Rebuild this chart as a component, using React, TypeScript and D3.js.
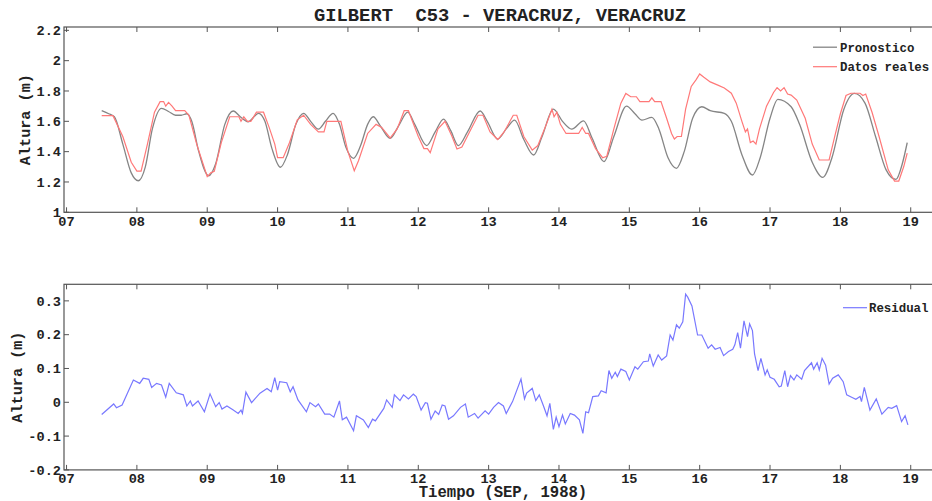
import React from "react";
import * as d3 from "d3";

const TITLE = "GILBERT  C53 - VERACRUZ, VERACRUZ";
const X_LABEL = "Tiempo (SEP, 1988)";
const Y_LABEL = "Altura (m)";
const X_TICKS = [7, 8, 9, 10, 11, 12, 13, 14, 15, 16, 17, 18, 19];
const TOP_Y_TICKS = [1, 1.2, 1.4, 1.6, 1.8, 2, 2.2];
const BOT_Y_TICKS = [-0.2, -0.1, 0, 0.1, 0.2, 0.3];

// Pronostico (forecast) — day of September, height (m)
const pronDays = [7.5, 7.6, 7.68, 7.8, 7.92, 8.02, 8.12, 8.22, 8.35, 8.45, 8.55, 8.63, 8.71, 8.78, 8.88, 9.02, 9.12, 9.25, 9.37, 9.47, 9.58, 9.73, 9.82, 9.92, 10.04, 10.14, 10.26, 10.37, 10.47, 10.58, 10.68, 10.79, 10.88, 10.97, 11.08, 11.18, 11.28, 11.36, 11.46, 11.6, 11.72, 11.85, 11.95, 12.12, 12.24, 12.36, 12.46, 12.57, 12.7, 12.88, 12.98, 13.13, 13.25, 13.37, 13.5, 13.64, 13.76, 13.92, 14.05, 14.18, 14.35, 14.47, 14.64, 14.78, 14.96, 15.08, 15.18, 15.32, 15.42, 15.55, 15.67, 15.78, 15.9, 16.03, 16.15, 16.35, 16.45, 16.6, 16.75, 16.86, 17.0, 17.11, 17.3, 17.42, 17.6, 17.75, 17.88, 18.05, 18.2, 18.35, 18.5, 18.65, 18.79, 18.88, 18.95];
const pronValues = [1.67, 1.65, 1.63, 1.45, 1.26, 1.208, 1.3, 1.55, 1.686, 1.665, 1.64, 1.64, 1.65, 1.6, 1.4, 1.24, 1.32, 1.58, 1.668, 1.63, 1.597, 1.653, 1.6, 1.42, 1.297, 1.38, 1.58, 1.653, 1.6, 1.549, 1.6, 1.653, 1.58, 1.43, 1.356, 1.44, 1.58, 1.63, 1.57, 1.488, 1.57, 1.66, 1.58, 1.44, 1.53, 1.615, 1.54, 1.44, 1.53, 1.668, 1.6, 1.483, 1.55, 1.608, 1.48, 1.378, 1.5, 1.681, 1.6, 1.549, 1.603, 1.49, 1.334, 1.5, 1.7, 1.65, 1.608, 1.626, 1.55, 1.36, 1.29, 1.4, 1.62, 1.696, 1.67, 1.653, 1.6, 1.38, 1.246, 1.36, 1.62, 1.745, 1.696, 1.58, 1.33, 1.23, 1.36, 1.68, 1.784, 1.72, 1.5, 1.28, 1.217, 1.32, 1.459];

// Datos reales (observed)
const obsDays = [7.5, 7.66, 7.8, 7.92, 8.0, 8.06, 8.15, 8.25, 8.33, 8.38, 8.41, 8.45, 8.5, 8.55, 8.68, 8.74, 8.85, 9.0, 9.05, 9.1, 9.2, 9.32, 9.45, 9.48, 9.52, 9.57, 9.62, 9.7, 9.8, 9.88, 9.96, 10.0, 10.08, 10.17, 10.28, 10.37, 10.47, 10.58, 10.66, 10.7, 10.9, 11.0, 11.09, 11.15, 11.28, 11.4, 11.48, 11.6, 11.7, 11.8, 11.86, 12.0, 12.08, 12.13, 12.17, 12.28, 12.38, 12.48, 12.55, 12.62, 12.75, 12.85, 12.92, 13.02, 13.13, 13.22, 13.35, 13.4, 13.5, 13.62, 13.7, 13.82, 13.9, 13.93, 13.97, 14.02, 14.1, 14.28, 14.33, 14.38, 14.42, 14.52, 14.62, 14.68, 14.78, 14.88, 14.95, 15.02, 15.1, 15.15, 15.28, 15.32, 15.36, 15.45, 15.53, 15.6, 15.64, 15.68, 15.74, 15.8, 15.88, 15.95, 16.0, 16.06, 16.15, 16.25, 16.35, 16.45, 16.52, 16.6, 16.65, 16.68, 16.72, 16.76, 16.8, 16.85, 16.95, 17.05, 17.1, 17.15, 17.2, 17.25, 17.3, 17.38, 17.5, 17.6, 17.7, 17.78, 17.84, 17.92, 18.0, 18.08, 18.15, 18.28, 18.32, 18.36, 18.45, 18.55, 18.68, 18.77, 18.83, 18.9, 18.95];
const obsValues = [1.637, 1.637, 1.5, 1.33, 1.272, 1.272, 1.45, 1.66, 1.73, 1.73, 1.7, 1.725, 1.7, 1.67, 1.67, 1.64, 1.45, 1.235, 1.26, 1.27, 1.46, 1.63, 1.63, 1.6, 1.63, 1.6, 1.6, 1.66, 1.66, 1.56, 1.45, 1.36, 1.36, 1.46, 1.61, 1.64, 1.58, 1.53, 1.53, 1.6, 1.6, 1.4, 1.274, 1.34, 1.52, 1.58, 1.56, 1.49, 1.55, 1.67, 1.67, 1.5, 1.42, 1.42, 1.393, 1.55, 1.6, 1.5, 1.417, 1.43, 1.55, 1.64, 1.64, 1.53, 1.48, 1.53, 1.64, 1.64, 1.5, 1.41, 1.44, 1.58, 1.68, 1.63, 1.66, 1.58, 1.52, 1.52, 1.56, 1.52, 1.52, 1.42, 1.36, 1.37, 1.55, 1.72, 1.784, 1.762, 1.762, 1.73, 1.73, 1.755, 1.73, 1.73, 1.62, 1.52, 1.483, 1.5, 1.5, 1.68, 1.83, 1.875, 1.912, 1.89, 1.86, 1.84, 1.82, 1.785, 1.72, 1.6, 1.53, 1.55, 1.46, 1.47, 1.45, 1.55, 1.7, 1.79, 1.822, 1.8, 1.822, 1.78, 1.773, 1.74, 1.62, 1.45, 1.345, 1.345, 1.345, 1.5, 1.65, 1.77, 1.785, 1.785, 1.77, 1.78, 1.66, 1.5, 1.28, 1.206, 1.206, 1.3, 1.39];

// Residual
const resDays = [7.5, 7.67, 7.71, 7.79, 7.95, 8.04, 8.09, 8.17, 8.21, 8.28, 8.35, 8.41, 8.46, 8.56, 8.66, 8.71, 8.76, 8.79, 8.87, 8.96, 9.04, 9.12, 9.17, 9.21, 9.28, 9.37, 9.44, 9.48, 9.5, 9.55, 9.63, 9.75, 9.85, 9.91, 9.96, 10.0, 10.03, 10.13, 10.18, 10.22, 10.29, 10.41, 10.46, 10.54, 10.58, 10.67, 10.74, 10.8, 10.88, 10.92, 10.98, 11.08, 11.12, 11.22, 11.29, 11.35, 11.39, 11.51, 11.55, 11.63, 11.66, 11.74, 11.79, 11.86, 11.93, 11.97, 12.04, 12.1, 12.13, 12.18, 12.24, 12.29, 12.34, 12.38, 12.43, 12.5, 12.6, 12.67, 12.71, 12.8, 12.85, 12.95, 13.0, 13.07, 13.14, 13.21, 13.25, 13.34, 13.46, 13.51, 13.54, 13.62, 13.67, 13.72, 13.78, 13.83, 13.87, 13.92, 13.96, 14.0, 14.05, 14.09, 14.16, 14.22, 14.29, 14.34, 14.38, 14.42, 14.48, 14.56, 14.6, 14.67, 14.71, 14.75, 14.8, 14.83, 14.88, 14.95, 15.0, 15.08, 15.12, 15.2, 15.27, 15.29, 15.34, 15.41, 15.46, 15.53, 15.58, 15.62, 15.67, 15.71, 15.76, 15.8, 15.83, 15.89, 15.97, 16.03, 16.12, 16.17, 16.22, 16.29, 16.34, 16.41, 16.47, 16.5, 16.54, 16.58, 16.63, 16.68, 16.71, 16.75, 16.78, 16.83, 16.87, 16.93, 16.96, 17.0, 17.06, 17.13, 17.16, 17.21, 17.25, 17.29, 17.34, 17.38, 17.45, 17.49, 17.59, 17.62, 17.67, 17.7, 17.74, 17.79, 17.84, 17.89, 17.97, 18.04, 18.09, 18.16, 18.22, 18.28, 18.3, 18.34, 18.42, 18.51, 18.59, 18.68, 18.73, 18.8, 18.87, 18.92, 18.96];
const resValues = [-0.036, -0.005, -0.016, -0.008, 0.066, 0.056, 0.071, 0.068, 0.044, 0.056, 0.051, 0.015, 0.056, 0.028, 0.022, -0.011, 0.004, -0.011, 0.004, -0.028, 0.025, -0.013, -0.001, -0.02, -0.011, -0.023, -0.033, -0.023, -0.033, 0.03, -0.001, 0.027, 0.041, 0.031, 0.073, 0.036, 0.061, 0.058, 0.031, 0.046, 0.007, -0.028, -0.001, -0.013, -0.005, -0.035, -0.035, -0.044, 0.004, -0.052, -0.044, -0.084, -0.04, -0.052, -0.075, -0.05, -0.055, -0.018, 0.007, -0.015, 0.022, 0.005, 0.022, 0.01, 0.024, 0.017, -0.023, -0.001, -0.003, -0.05, -0.026, -0.036, -0.008, -0.011, -0.05, -0.04, -0.015, -0.005, -0.044, -0.033, -0.047, -0.025, -0.035, -0.015, -0.001, -0.011, -0.033, 0.002, 0.069, 0.01, 0.027, 0.041, 0.005, 0.022, -0.011, -0.04, -0.003, -0.08, -0.044, -0.072, -0.038, -0.064, -0.033, -0.038, -0.052, -0.092, -0.028, -0.031, 0.017, 0.019, 0.034, 0.028, 0.094, 0.071, 0.089, 0.076, 0.098, 0.091, 0.066, 0.105, 0.098, 0.12, 0.122, 0.143, 0.107, 0.14, 0.125, 0.137, 0.199, 0.184, 0.229, 0.219, 0.238, 0.32, 0.311, 0.285, 0.199, 0.199, 0.16, 0.17, 0.157, 0.162, 0.138, 0.15, 0.157, 0.17, 0.206, 0.16, 0.241, 0.194, 0.232, 0.212, 0.143, 0.094, 0.13, 0.081, 0.096, 0.074, 0.068, 0.046, 0.048, 0.094, 0.046, 0.079, 0.066, 0.081, 0.068, 0.094, 0.117, 0.098, 0.117, 0.096, 0.13, 0.11, 0.054, 0.071, 0.081, 0.061, 0.022, 0.015, 0.009, 0.017, 0.002, 0.044, -0.023, 0.01, -0.035, -0.015, -0.018, -0.01, -0.057, -0.04, -0.067];

const FONT = "'Liberation Mono', 'DejaVu Sans Mono', monospace";
const AXIS_COLOR = "#555";
const TEXT_COLOR = "#222";
const C_PRON = "#858585";
const C_OBS = "#ff7878";
const C_RES = "#7878ff";

const W = 932;
const H = 501;
const LEFT = 64;
const RIGHT = 935;

const x = d3.scaleLinear().domain([6.964, 19.345]).range([LEFT, RIGHT]);
const yTop = d3.scaleLinear().domain([1, 2.222]).range([212.3, 27]);
const yBot = d3.scaleLinear().domain([-0.2, 0.349]).range([469.9, 284.3]);

function zip(a: number[], b: number[]): [number, number][] {
  return a.map((d, i) => [d, b[i]]);
}

function Panel({ y, yTicks, fmt, labelX }: { y: d3.ScaleLinear<number, number>; yTicks: number[]; fmt: (v: number) => string; labelX: number }) {
  const [y0, y1] = y.range();
  const top = y1;
  const bottom = y0;
  return (
    <g>
      <rect x={LEFT} y={top} width={RIGHT - LEFT} height={bottom - top} fill="none" stroke={AXIS_COLOR} strokeWidth={1.2} />
      {X_TICKS.map((t) => (
        <g key={"x" + t}>
          <line x1={x(t)} x2={x(t)} y1={bottom} y2={bottom - 5} stroke={AXIS_COLOR} strokeWidth={1} />
          <line x1={x(t)} x2={x(t)} y1={top} y2={top + 5} stroke={AXIS_COLOR} strokeWidth={1} />
          <text x={x(t)} y={bottom + 13.5} textAnchor="middle" fontFamily={FONT} fontWeight="bold" fontSize={13.6} fill={TEXT_COLOR}>
            {d3.format("02d")(t)}
          </text>
        </g>
      ))}
      {yTicks.map((t) => (
        <g key={"y" + t}>
          <line x1={LEFT} x2={LEFT + 5} y1={y(t)} y2={y(t)} stroke={AXIS_COLOR} strokeWidth={1} />
          <text x={LEFT - 3} y={y(t)} dy="0.35em" textAnchor="end" fontFamily={FONT} fontWeight="bold" fontSize={13.6} fill={TEXT_COLOR}>
            {fmt(t)}
          </text>
        </g>
      ))}
      <text transform={`translate(${labelX},${(top + bottom) / 2}) rotate(-90)`} dy="0.35em" textAnchor="middle" fontFamily={FONT} fontWeight="bold" fontSize={15.2} fill={TEXT_COLOR}>
        {Y_LABEL}
      </text>
    </g>
  );
}

const fmtTick = (v: number) => {
  const r = Math.round(v * 10) / 10;
  return r === 0 ? "0" : String(r);
};

export default function App() {
  const smooth = d3.line<[number, number]>().x((d) => x(d[0])).y((d) => yTop(d[1])).curve(d3.curveMonotoneX);
  const lin = d3.line<[number, number]>().x((d) => x(d[0])).y((d) => yTop(d[1]));
  const linBot = d3.line<[number, number]>().x((d) => x(d[0])).y((d) => yBot(d[1]));

  return (
    <svg width={W} height={H} style={{ position: "absolute", left: 0, top: 0, background: "#fff" }}>
      <text x={500} y={21} textAnchor="middle" fontFamily={FONT} fontWeight="bold" fontSize={18.8} fill={TEXT_COLOR} style={{ whiteSpace: "pre" }}>
        {TITLE}
      </text>
      <Panel y={yTop} yTicks={TOP_Y_TICKS} fmt={fmtTick} labelX={25} />
      <path d={smooth(zip(pronDays, pronValues)) || ""} fill="none" stroke={C_PRON} strokeWidth={1.3} />
      <path d={lin(zip(obsDays, obsValues)) || ""} fill="none" stroke={C_OBS} strokeWidth={1.2} />
      <g fontFamily={FONT} fontWeight="bold" fontSize={12.4} fill={TEXT_COLOR}>
        <line x1={813} x2={837} y1={47.2} y2={47.2} stroke={C_PRON} strokeWidth={1.3} />
        <text x={840} y={47.2} dy="0.35em">Pronostico</text>
        <line x1={813} x2={837} y1={66.7} y2={66.7} stroke={C_OBS} strokeWidth={1.2} />
        <text x={840} y={66.7} dy="0.35em">Datos reales</text>
      </g>

      <Panel y={yBot} yTicks={BOT_Y_TICKS} fmt={fmtTick} labelX={17} />
      <path d={linBot(zip(resDays, resValues)) || ""} fill="none" stroke={C_RES} strokeWidth={1.2} />
      <g fontFamily={FONT} fontWeight="bold" fontSize={12.4} fill={TEXT_COLOR}>
        <line x1={843} x2={867} y1={307.7} y2={307.7} stroke={C_RES} strokeWidth={1.2} />
        <text x={869} y={307.7} dy="0.35em">Residual</text>
      </g>
      <text x={503} y={497} textAnchor="middle" fontFamily={FONT} fontWeight="bold" fontSize={15.6} fill={TEXT_COLOR}>
        {X_LABEL}
      </text>
    </svg>
  );
}
